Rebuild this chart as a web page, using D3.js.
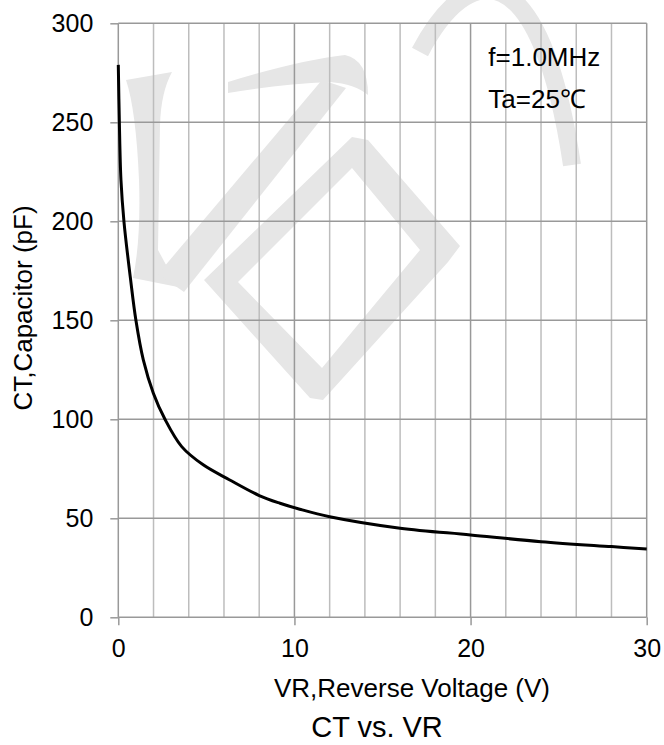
<!DOCTYPE html>
<html>
<head>
<meta charset="utf-8">
<script src="https://cdn.jsdelivr.net/npm/d3@7"></script>
<style>
  body { margin: 0; background: #fff; }
  text { font-family: "Liberation Sans", Arial, sans-serif; fill: #000; }
</style>
</head>
<body>
<div id="chart"></div>
<script>
var voltage = [0, 0.06, 0.15, 0.32, 0.7, 1.0, 1.42, 1.99, 2.65, 3.6, 4.82, 6.3, 8, 9.18, 10.3, 12, 16, 20, 24, 28, 30];
var capacitance = [279, 250, 221, 200, 170.4, 150, 130, 113.2, 100, 86.2, 77, 69.5, 61.5, 57.6, 54.6, 50.8, 45, 41.6, 38.2, 35.7, 34.5];

var xTicks = [0, 10, 20, 30];
var xGrid = d3.range(0, 31, 2);
var yTicks = [0, 50, 100, 150, 200, 250, 300];
var notes = ["f=1.0MHz", "Ta=25\u2103"];

var svgWidth = 664;
var svgHeight = 745;

var margin = { top: 23.3, right: 17.3, bottom: 127.7, left: 118.3 };
var width = svgWidth - margin.left - margin.right;
var height = svgHeight - margin.top - margin.bottom;

var svg = d3.select("#chart")
  .append("svg")
  .attr("width", svgWidth)
  .attr("height", svgHeight);

// faint watermark behind the grid
var wm = svg.append("g").attr("fill", "#e6e6e6").attr("stroke", "none");
wm.append("path")
  .attr("d", "M126,80 L172,72 Q161,92 160,125 L158,250 L178,287 L133,278 Q141,240 139,180 Q136,110 126,80 Z");
wm.append("path")
  .attr("d", "M158,274 L322,80 L346,88 L184,292 Z");
wm.append("path")
  .attr("d", "M228,82 Q300,60 345,55 Q368,60 368,95 Q355,84 330,82 Q280,84 228,93 Z");
wm.append("path")
  .attr("fill-rule", "evenodd")
  .attr("d", "M204,280 L352,137 L368,140 L460,246 L448,262 L323,400 L310,398 Z M238,282 L322,368 L420,250 L352,168 Z");
wm.append("path")
  .attr("fill", "none")
  .attr("stroke", "#e6e6e6")
  .attr("stroke-width", 18)
  .attr("d", "M420,52 C468,-40 540,-50 572,165");

var chartGroup = svg.append("g")
  .attr("transform", `translate(${margin.left}, ${margin.top})`);

var xScale = d3.scaleLinear().domain([0, 30]).range([0, width]);
var yScale = d3.scaleLinear().domain([0, 300]).range([height, 0]);

// vertical grid, every 2 V, darker at the labelled ones
chartGroup.append("g").selectAll("line")
  .data(xGrid)
  .enter()
  .append("line")
  .attr("x1", d => xScale(d))
  .attr("x2", d => xScale(d))
  .attr("y1", 0)
  .attr("y2", height)
  .attr("stroke", d => d % 10 === 0 ? "#999" : "#bdbdbd")
  .attr("stroke-width", 1.5);

// horizontal grid
chartGroup.append("g").selectAll("line")
  .data(yTicks)
  .enter()
  .append("line")
  .attr("x1", 0)
  .attr("x2", width)
  .attr("y1", d => yScale(d))
  .attr("y2", d => yScale(d))
  .attr("stroke", "#999")
  .attr("stroke-width", 1.5);

// axes
var bottomAxis = d3.axisBottom(xScale).tickValues(xTicks).tickSize(8).tickPadding(14);
var leftAxis = d3.axisLeft(yScale).tickValues(yTicks).tickSize(8).tickPadding(17);

var xAxisG = chartGroup.append("g")
  .attr("transform", `translate(0, ${height})`)
  .call(bottomAxis);
var yAxisG = chartGroup.append("g")
  .call(leftAxis);

[xAxisG, yAxisG].forEach(function(g) {
  g.select(".domain").remove();
  g.selectAll(".tick line").attr("stroke", "#999").attr("stroke-width", 1.5);
  g.selectAll(".tick text")
    .attr("fill", "#000")
    .style("font-family", "'Liberation Sans', Arial, sans-serif")
    .style("font-size", "25px");
});

// the curve
var points = voltage.map((v, i) => [v, capacitance[i]]);
var line = d3.line()
  .x(d => xScale(d[0]))
  .y(d => yScale(d[1]))
  .curve(d3.curveCatmullRom.alpha(0.5));

chartGroup.append("path")
  .datum(points)
  .attr("d", line)
  .attr("fill", "none")
  .attr("stroke", "#000")
  .attr("stroke-width", 3);

// test conditions
chartGroup.append("g").selectAll("text")
  .data(notes)
  .enter()
  .append("text")
  .attr("x", 370)
  .attr("y", (d, i) => 43 + i * 42)
  .style("font-size", "26px")
  .text(d => d);

// y axis label
svg.append("text")
  .attr("transform", "rotate(-90)")
  .attr("x", -308)
  .attr("y", 32)
  .attr("text-anchor", "middle")
  .style("font-size", "26px")
  .text("CT,Capacitor (pF)");

// x axis label
svg.append("text")
  .attr("x", 412)
  .attr("y", 697)
  .attr("text-anchor", "middle")
  .style("font-size", "26px")
  .text("VR,Reverse Voltage (V)");

// title under the chart
svg.append("text")
  .attr("x", 377)
  .attr("y", 737)
  .attr("text-anchor", "middle")
  .style("font-size", "29px")
  .text("CT vs. VR");
</script>
</body>
</html>
